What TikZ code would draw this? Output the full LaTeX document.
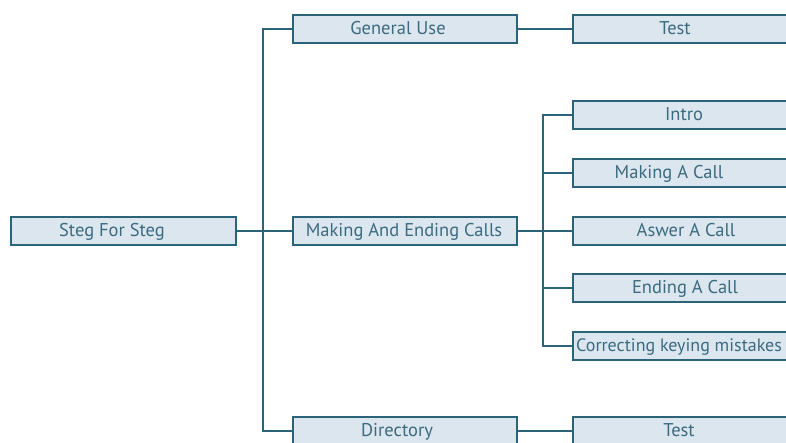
\documentclass[tikz,border=0pt]{standalone}
\usepackage{fontspec}
\setmainfont{PT Sans}
\definecolor{boxfill}{HTML}{DCE6EE}
\definecolor{edge}{HTML}{2B6479}
\definecolor{txt}{HTML}{3B6B80}
\begin{document}
\begin{tikzpicture}[x=1pt,y=-1pt,
  box/.style={draw=edge, fill=boxfill, line width=1.8pt, minimum height=28pt, inner sep=0pt, anchor=west},
  lbl/.style={text=txt, font=\fontsize{18.5}{20}\selectfont, inner sep=0pt, text height=13pt, text depth=2pt},
  conn/.style={draw=edge, line width=1.8pt}]
\useasboundingbox (0,0) rectangle (786,442);
\clip (0,0) rectangle (786,442);
% boxes
\node[box, minimum width=225pt] (steg) at (10,231) {};
\node[box, minimum width=224pt] (gen) at (292,29) {};
\node[box, minimum width=224pt] (mak) at (292,231) {};
\node[box, minimum width=224pt] (dir) at (292,431) {};
\node[box, minimum width=240pt] (test1) at (572,29) {};
\node[box, minimum width=240pt] (intro) at (572,115) {};
\node[box, minimum width=240pt] (call) at (572,173) {};
\node[box, minimum width=240pt] (answer) at (572,231) {};
\node[box, minimum width=240pt] (ending) at (572,288) {};
\node[box, minimum width=240pt] (corr) at (572,346) {};
\node[box, minimum width=240pt] (test2) at (572,431) {};
% labels
\node[lbl] (tsteg) at (112,231) {Steg For Steg};
\node[lbl] (tgen) at (398,29) {General Use};
\node[lbl] (tmak) at (404,231) {Making And Ending Calls};
\node[lbl] (tdir) at (397,431) {Directory};
\node[lbl] (ttest1) at (675,29) {Test};
\node[lbl] (tintro) at (684,115) {Intro};
\node[lbl] (tcall) at (669,173) {Making A Call};
\node[lbl] (tanswer) at (686,231) {Aswer A Call};
\node[lbl] (tending) at (685,288) {Ending A Call};
\node[lbl, anchor=west, font=\fontsize{18}{20}\selectfont] (tcorr) at (576,346) {Correcting keying mistakes};
\node[lbl] (ttest2) at (679,431) {Test};
% connectors
\coordinate (j1) at (543,231);
\draw[conn] (steg.east) -- (mak.west);
\draw[conn] (gen.west) -- ++(-29,0) |- (dir.west);
\draw[conn] (gen.east) -- (test1.west);
\draw[conn] (dir.east) -- (test2.west);
\draw[conn] (mak.east) -- (j1);
\draw[conn] (intro.west) -- ++(-29,0) |- (corr.west);
\draw[conn] (call.west) -- ++(-29,0);
\draw[conn] (answer.west) -- (j1);
\draw[conn] (ending.west) -- ++(-29,0);
\end{tikzpicture}
\end{document}
